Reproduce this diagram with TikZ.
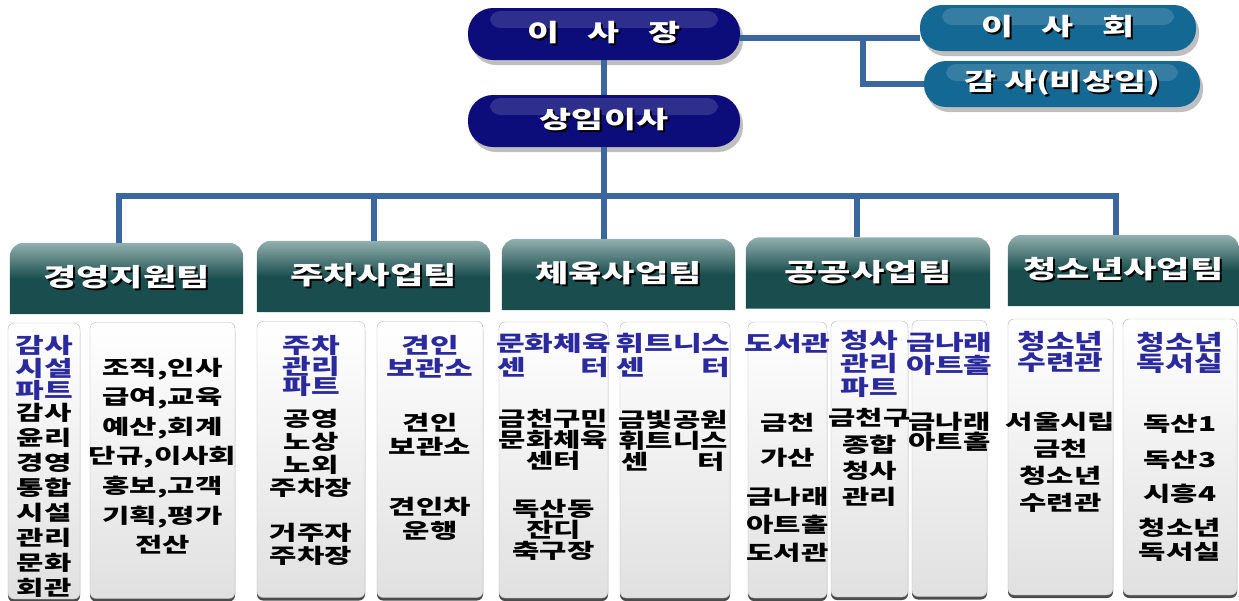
\documentclass[tikz,border=0pt]{standalone}
\usepackage{fontspec}
\setmainfont{Noto Sans CJK KR}[FakeStretch=1.45]
\usepackage{tikz}
\usetikzlibrary{positioning}
\usetikzlibrary{shadows}
\usetikzlibrary{backgrounds}
\definecolor{chairnavy}{RGB}{12,12,122}
\definecolor{boardteal}{RGB}{20,104,148}
\definecolor{linkblue}{RGB}{58,104,158}
\definecolor{tabtop}{RGB}{146,176,174}
\definecolor{tabdark}{RGB}{26,78,78}
\definecolor{partblue}{RGB}{42,42,158}
\newcommand{\shtext}[1]{\rlap{\kern2pt\raisebox{-2pt}{\textcolor{black}{#1}}}#1}
\tikzset{my_chart/.style={x=1pt,y=-1pt,font=\bfseries}}
\tikzset{my_link/.style={draw=linkblue,line width=6pt}}
\tikzset{my_pill/.style={rounded corners=25pt, minimum height=52pt, text=white, font=\bfseries\fontsize{24}{26}\selectfont, drop shadow={shadow xshift=3pt,shadow yshift=-5pt,fill=black!25,opacity=1}, path picture={\fill[white,opacity=.14,rounded corners=10pt] ([xshift=22pt,yshift=-3pt]path picture bounding box.north west) rectangle ([xshift=-22pt,yshift=-20pt]path picture bounding box.north east);}}}
\tikzset{my_chair/.style={my_pill, fill=chairnavy, minimum width=272pt}}
\tikzset{my_board/.style={my_pill, fill=boardteal, minimum width=276pt, minimum height=46pt, rounded corners=22pt}}
\tikzset{my_team/.style={minimum height=71pt, text=white, font=\bfseries\fontsize{25}{27}\selectfont}}
\tikzset{my_team_fill/.style={top color=tabtop, bottom color=tabdark, middle color=tabdark}}
\tikzset{my_part/.style={draw=black!30, rounded corners=6pt, top color=white, bottom color=black!12, minimum height=276pt, drop shadow={shadow xshift=0pt,shadow yshift=-3pt,fill=black!70,opacity=1}}}
\tikzset{my_head/.style={text=partblue, align=center, inner sep=0pt, font=\bfseries\fontsize{21.5}{#1}\selectfont}, my_head/.default=22.5}
\tikzset{my_body/.style={text=black, align=center, inner sep=0pt, font=\bfseries\fontsize{20.5}{#1}\selectfont}, my_body/.default=25}

\begin{document}
\begin{tikzpicture}[my_chart]
    \useasboundingbox (0,0) rectangle (1239,600);
    \node[my_chair] (chair) at (604,34) {\shtext{이\hspace{28pt}사\hspace{28pt}장}};
    \node[my_chair] (exec) at (604,121) {\shtext{상임이사}};
    \node[my_board] (board) at (1058,28) {\shtext{이\hspace{28pt}사\hspace{28pt}회}};
    \node[my_board] (audit) at (1062,84) {\shtext{감 사(비상임)}};

    \node[my_team, minimum width=233pt] (t1) at (126.5,278.5) {\shtext{경영지원팀}};
    \node[my_team, minimum width=233pt] (t2) at (373.5,276.5) {\shtext{주차사업팀}};
    \node[my_team, minimum width=233pt] (t3) at (618.5,274.5) {\shtext{체육사업팀}};
    \node[my_team, minimum width=244pt] (t4) at (868,273) {\shtext{공공사업팀}};
    \node[my_team, minimum width=231pt] (t5) at (1123.5,270.5) {\shtext{청소년사업팀}};
    \begin{scope}[on background layer]
        \foreach \t in {t1,t2,t3,t4,t5}
            \shade[my_team_fill] (\t.south west) -- ([yshift=-14pt]\t.north west)
                arc[start angle=180, end angle=90, radius=14pt] -- ([xshift=-14pt]\t.north east)
                arc[start angle=90, end angle=0, radius=14pt] -- (\t.south east) -- cycle;
    \end{scope}

    \coordinate (split) at (863,38);
    \coordinate (busL) at (119,196);
    \coordinate (busR) at (1116,196);
    \coordinate (drop4) at (857,196);
    \draw[my_link] (chair.east |- split) -- (board.west |- split);
    \draw[my_link] (split) |- (audit.west);
    \draw[my_link] (chair) -- (exec);
    \draw[my_link] (exec.south) -- (exec.south |- t3.north);
    \draw[my_link] (t1.north -| busL) |- (busR) -- (t5.north -| busR);
    \draw[my_link] (t2.north) -- (t2.north |- busL);
    \draw[my_link] (drop4) -- (drop4 |- t4.north);

    % 경영지원팀
    \node[my_part, minimum width=72pt] (s1) at (44,461) {};
    \node[my_head] (s1h) at (44,368) {감사\\시설\\파트};
    \node[my_body] (s1b) at (44,500) {감사\\윤리\\경영\\통합\\시설\\관리\\문화\\회관};
    \node[my_part, minimum width=145pt] (s2) at (162.5,460.5) {};
    \node[my_body=29.6] (s2b) at (162.5,456) {조직,인사\\급여,교육\\예산,회계\\단규,이사회\\홍보,고객\\기획,평가\\전산};

    % 주차사업팀
    \node[my_part, minimum width=108pt] (s3) at (311,459.5) {};
    \node[my_head=20.5] (s3h) at (311,366) {주차\\관리\\파트};
    \node[my_body=23] (s3b) at (311,487) {공영\\노상\\노외\\주차장\\[22pt]거주자\\주차장};
    \node[my_part, minimum width=106pt] (s4) at (430,459.5) {};
    \node[my_head=23] (s4h) at (430,356.5) {견인\\보관소};
    \node[my_body=24] (s4b) at (430,476.5) {견인\\보관소\\[36pt]견인차\\운행};

    % 체육사업팀
    \node[my_part, minimum width=109pt] (s5) at (553.5,460) {};
    \node[my_head=24] (s5h) at (553.5,355) {\makebox[112pt]{문화체\hfill 육}\\\makebox[112pt]{센\hfill 터}};
    \node[my_body=21] (s5b) at (553.5,485) {\makebox[104pt]{금\hfill 천\hfill 구\hfill 민}\\\makebox[104pt]{문\hfill 화\hfill 체\hfill 육}\\센터\\[27pt]독산동\\잔디\\축구장};
    \node[my_part, minimum width=110pt] (s6) at (675,460) {};
    \node[my_head=24] (s6h) at (673,355) {\makebox[114pt]{휘\hfill 트\hfill 니\hfill 스}\\\makebox[114pt]{센\hfill 터}};
    \node[my_body=21] (s6b) at (673,441) {\makebox[104pt]{금\hfill 빛\hfill 공\hfill 원}\\\makebox[104pt]{휘\hfill 트\hfill 니\hfill 스}\\\makebox[104pt]{센\hfill 터}};

    % 공공사업팀
    \node[my_part, minimum width=79pt] (s7) at (787.5,460) {};
    \node[my_head] (s7h) at (787.5,343) {도서관};
    \node[my_body=28] (s7b) at (787.5,488) {금천\\[7pt]가산\\[11pt]금나래\\아트홀\\도서관};
    \node[my_part, minimum width=77pt] (s8) at (869.5,459) {};
    \node[my_head=23.5] (s8h) at (869.5,363.5) {청사\\관리\\파트};
    \node[my_body=26.3] (s8b) at (869.5,457.5) {금천구\\종합\\청사\\관리};
    \node[my_part, minimum width=75pt] (s9) at (949.5,458.5) {};
    \node[my_head=23] (s9h) at (949.5,353.5) {금나래\\아트홀};
    \node[my_body=20] (s9b) at (949.5,432) {금나래\\아트홀};

    % 청소년사업팀
    \node[my_part, minimum width=105pt] (s10) at (1060.5,457) {};
    \node[my_head=20] (s10h) at (1060.5,352) {청소년\\수련관};
    \node[my_body=27] (s10b) at (1060.5,462.5) {서울시립\\금천\\청소년\\수련관};
    \node[my_part, minimum width=114pt] (s11) at (1180,457) {};
    \node[my_head=21] (s11h) at (1180,352.5) {청소년\\독서실};
    \node[my_body=24] (s11b) at (1180,487.5) {독산1\\[12pt]독산3\\[10pt]시흥4\\[10pt]청소년\\독서실};
\end{tikzpicture}
\end{document}
